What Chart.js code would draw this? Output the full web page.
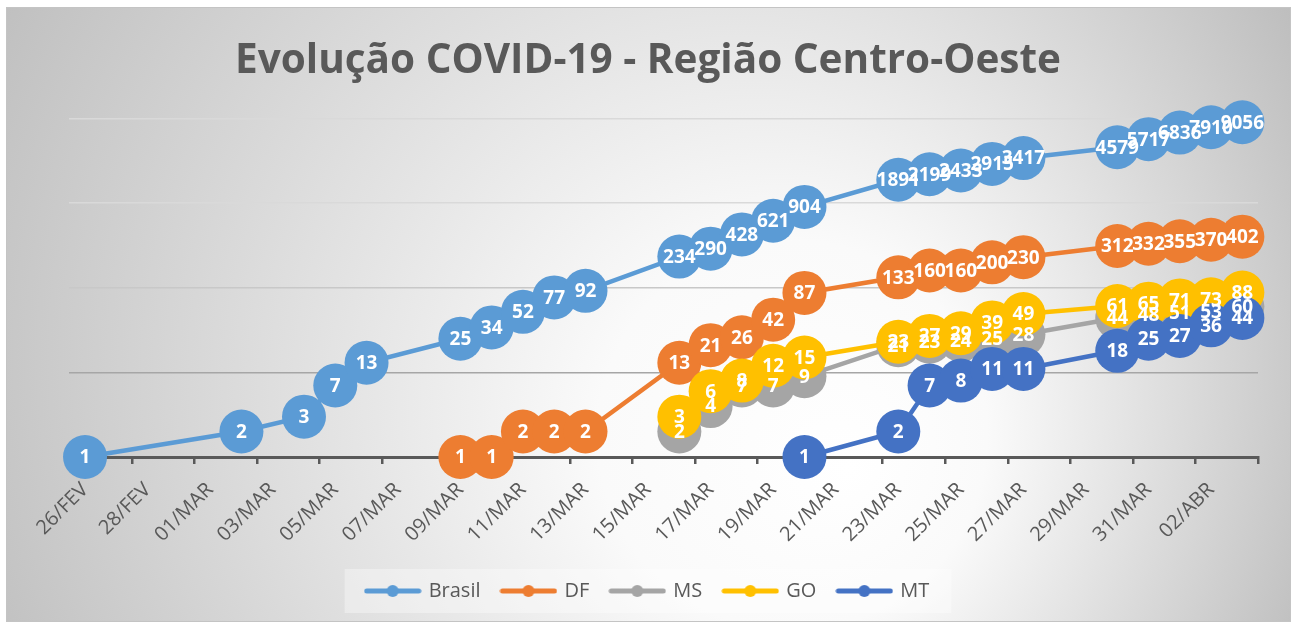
<!DOCTYPE html>
<html>
<head>
<meta charset="utf-8">
<title>Evolução COVID-19 - Região Centro-Oeste</title>
<script src="https://cdn.jsdelivr.net/npm/chart.js@4/dist/chart.umd.min.js"></script>
<style>
  html, body { margin: 0; padding: 0; background: #fff; }
  #wrap { width: 1293px; height: 626px; }
</style>
</head>
<body>
<div id="wrap"><canvas id="myChart" width="1293" height="626"></canvas></div>
<script>
///// EVOLUCAO COVID-19 /////

// Datas (26/FEV .. 03/ABR)
const datas = [
  "26/FEV", "27/FEV", "28/FEV", "29/FEV",
  "01/MAR", "02/MAR", "03/MAR", "04/MAR", "05/MAR", "06/MAR", "07/MAR", "08/MAR",
  "09/MAR", "10/MAR", "11/MAR", "12/MAR", "13/MAR", "14/MAR", "15/MAR", "16/MAR",
  "17/MAR", "18/MAR", "19/MAR", "20/MAR", "21/MAR", "22/MAR", "23/MAR", "24/MAR",
  "25/MAR", "26/MAR", "27/MAR", "28/MAR", "29/MAR", "30/MAR", "31/MAR",
  "01/ABR", "02/ABR", "03/ABR"
];

// casos confirmados (null = sem registro no dia)
const _ = null;
const brasil = [1, _, _, _, _, 2, _, 3, 7, 13, _, _, 25, 34, 52, 77, 92, _, _, 234,
  290, 428, 621, 904, _, _, 1891, 2199, 2433, 2915, 3417, _, _, 4579, 5717, 6836, 7910, 9056];
const df = [_, _, _, _, _, _, _, _, _, _, _, _, 1, 1, 2, 2, 2, _, _, 13,
  21, 26, 42, 87, _, _, 133, 160, 160, 200, 230, _, _, 312, 332, 355, 370, 402];
const ms = [_, _, _, _, _, _, _, _, _, _, _, _, _, _, _, _, _, _, _, 2,
  4, 7, 7, 9, _, _, 21, 23, 24, 25, 28, _, _, 44, 48, 51, 53, 60];
const go = [_, _, _, _, _, _, _, _, _, _, _, _, _, _, _, _, _, _, _, 3,
  6, 8, 12, 15, _, _, 23, 27, 29, 39, 49, _, _, 61, 65, 71, 73, 88];
const mt = [_, _, _, _, _, _, _, _, _, _, _, _, _, _, _, _, _, _, _, _,
  _, _, _, 1, _, _, 2, 7, 8, 11, 11, _, _, 18, 25, 27, 36, 44];

// escala log: linhas de grade
const yTicks = [1, 10, 100, 1000, 10000];

const TEXT_GRAY = '#595959';
const FONT = '"Open Sans", "DejaVu Sans", sans-serif';

// legend icon: line with a dot
function legendIcon(color) {
    const c = document.createElement('canvas');
    c.width = 58;
    c.height = 14;
    const g = c.getContext('2d');
    g.strokeStyle = color;
    g.lineWidth = 5;
    g.lineCap = 'round';
    g.beginPath();
    g.moveTo(3, 7);
    g.lineTo(55, 7);
    g.stroke();
    g.fillStyle = color;
    g.beginPath();
    g.arc(29, 7, 6, 0, Math.PI * 2);
    g.fill();
    return c;
}

// background: radial gradient box
const bgPlugin = {
    id: 'bgPlugin',
    beforeDraw(chart) {
        const c = chart.ctx;
        c.save();
        c.fillStyle = '#ffffff';
        c.fillRect(0, 0, chart.width, chart.height);
        const grad = c.createRadialGradient(850, 470, 0, 620, 330, 780);
        grad.addColorStop(0, '#ffffff');
        grad.addColorStop(0.25, '#fafafa');
        grad.addColorStop(1, '#b9b9b9');
        c.fillStyle = grad;
        c.fillRect(6, 7, 1285, 615);
        c.strokeStyle = '#c4c4c4';
        c.lineWidth = 1;
        c.strokeRect(6.5, 7.5, 1284, 614);

        // faint legend box
        const boxes = chart.legend && chart.legend.legendHitBoxes;
        if (boxes && boxes.length) {
            const first = boxes[0], last = boxes[boxes.length - 1];
            c.fillStyle = 'rgba(255,255,255,0.35)';
            c.fillRect(first.left - 22, first.top - 12, last.left + last.width - first.left + 44, first.height + 24);
        }
        c.restore();
    }
};

// value labels inside the circles
const labelPlugin = {
    id: 'labelPlugin',
    afterDatasetsDraw(chart) {
        const c = chart.ctx;
        c.save();
        c.font = 'bold 19px ' + FONT;
        c.fillStyle = '#ffffff';
        c.textAlign = 'center';
        c.textBaseline = 'middle';
        chart.data.datasets.forEach((ds, i) => {
            const meta = chart.getDatasetMeta(i);
            meta.data.forEach((pt, j) => {
                const v = ds.data[j];
                if (v === null || v === undefined) return;
                c.fillText(String(v), pt.x, pt.y + 1);
            });
        });
        c.restore();
    }
};

function serie(label, data, color) {
    return {
        label: label,
        data: data,
        borderColor: color,
        backgroundColor: color,
        pointBackgroundColor: color,
        pointBorderColor: color,
        borderWidth: 4.5,
        pointRadius: 22,
        pointHoverRadius: 22,
        pointBorderWidth: 0,
        spanGaps: true,
        tension: 0,
        clip: false
    };
}

const myChart = new Chart('myChart', {
    type: 'line',
    data: {
        labels: datas,
        datasets: [
            Object.assign(serie('Brasil', brasil, '#5B9BD5'), { order: 5 }),
            Object.assign(serie('DF', df, '#ED7D31'), { order: 4 }),
            Object.assign(serie('MS', ms, '#A5A5A5'), { order: 3 }),
            Object.assign(serie('GO', go, '#FFC000'), { order: 2 }),
            Object.assign(serie('MT', mt, '#4472C4'), { order: 1 })
        ]
    },
    plugins: [bgPlugin, labelPlugin],
    options: {
        responsive: false,
        animation: false,
        layout: { padding: { top: 10, left: 38, right: 35, bottom: 15 } },
        plugins: {
            title: {
                display: true,
                text: 'Evolução COVID-19 - Região Centro-Oeste',
                color: TEXT_GRAY,
                font: { family: FONT, size: 40.5, weight: 'bold' },
                padding: { top: 27, bottom: 33 }
            },
            legend: {
                position: 'bottom',
                labels: {
                    usePointStyle: true,
                    pointStyleWidth: 52,
                    padding: 22,
                    color: TEXT_GRAY,
                    font: { family: FONT, size: 20 },
                    generateLabels(chart) {
                        return chart.data.datasets.map((ds, i) => ({
                            text: ds.label,
                            pointStyle: legendIcon(ds.borderColor),
                            fillStyle: ds.borderColor,
                            strokeStyle: ds.borderColor,
                            lineWidth: 0,
                            fontColor: TEXT_GRAY,
                            hidden: false,
                            datasetIndex: i
                        }));
                    }
                }
            },
            tooltip: { enabled: false }
        },
        scales: {
            x: {
                type: 'category',
                offset: true,
                afterFit(scale) { scale.height = 102; },
                border: { display: true, color: TEXT_GRAY, width: 3 },
                grid: {
                    display: true,
                    offset: true,
                    drawOnChartArea: false,
                    drawTicks: true,
                    tickLength: 7,
                    lineWidth: 2.5,
                    color: (ctx) => (ctx.index === undefined || ctx.index % 2 === 0) ? TEXT_GRAY : 'rgba(0,0,0,0)'
                },
                ticks: {
                    autoSkip: false,
                    minRotation: 45,
                    maxRotation: 45,
                    padding: 14,
                    color: TEXT_GRAY,
                    font: { family: FONT, size: 20 },
                    callback: (val, i) => (i % 2 === 0 ? datas[i] : '')
                }
            },
            y: {
                type: 'logarithmic',
                min: 1,
                max: 10000,
                afterBuildTicks(scale) {
                    scale.ticks = yTicks.map(v => ({ value: v }));
                },
                afterFit(scale) { scale.width = 31.4; },
                border: { display: false },
                ticks: { display: false },
                grid: {
                    drawTicks: false,
                    lineWidth: 1.5,
                    color: (ctx) => {
                        const v = ctx.tick && ctx.tick.value;
                        if (v === 1) return 'rgba(0,0,0,0)';
                        if (v === 10) return '#a6a6a6';
                        if (v === 100) return '#c8c8c8';
                        return '#d9d9d9';
                    }
                }
            }
        }
    }
});

console.log(myChart.chartArea);
</script>
</body>
</html>
